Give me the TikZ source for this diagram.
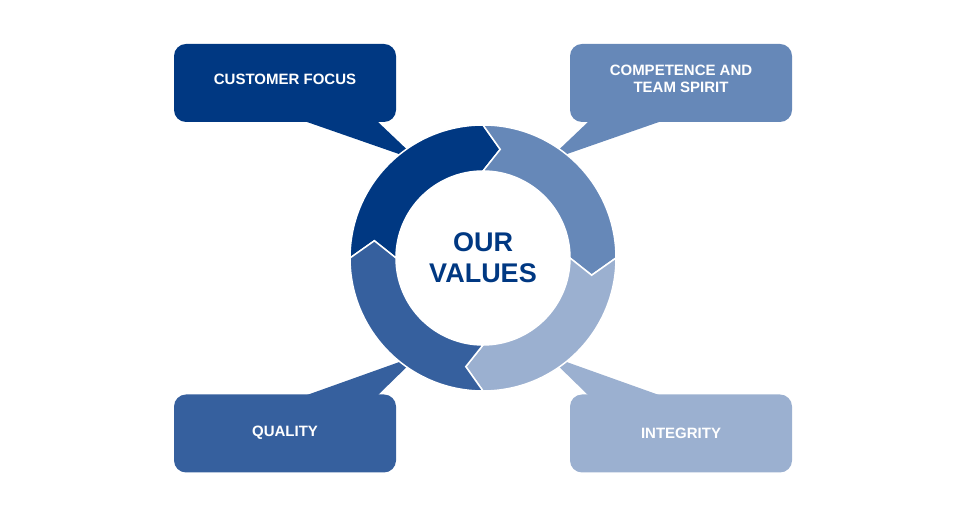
\documentclass[tikz,border=0pt]{standalone}
\usepackage{fontspec}
\setmainfont{Liberation Sans}
\definecolor{cA}{HTML}{003882}
\definecolor{cB}{HTML}{6688B8}
\definecolor{cC}{HTML}{9BB0D0}
\definecolor{cD}{HTML}{36609E}
\begin{document}
\begin{tikzpicture}[x=1pt,y=1pt,
  box/.style={rounded corners=12pt,minimum width=222pt,minimum height=78pt,inner sep=0pt},
  lbl/.style={text=white,font=\bfseries\fontsize{15}{17}\selectfont,align=center},
  seg/.style={draw=white,line width=1.5pt,line join=miter}]
\useasboundingbox (0,0) rectangle (972,529);
\def\R{133}\def\r{87}\def\m{110}\def\d{9}
% callouts
\fill[cA] (307,407) -- (419,368) -- (378,407) -- cycle;
\fill[cB] (659,407) -- (547,368) -- (588,407) -- cycle;
\fill[cD] (307,134) -- (419,174) -- (378,134) -- cycle;
\fill[cC] (659,134) -- (547,174) -- (588,134) -- cycle;
\node[box,fill=cA] (b1) at (285,446) {};
\node[box,fill=cB] (b2) at (681,446) {};
\node[box,fill=cD] (b3) at (285,95.5) {};
\node[box,fill=cC] (b4) at (681,95.5) {};
\node[lbl] (t1) at (285,450) {CUSTOMER FOCUS};
\node[lbl] (t2) at (681,450) {COMPETENCE AND\\TEAM SPIRIT};
\node[lbl] (t3) at (285,96) {QUALITY};
\node[lbl] (t4) at (681,96) {INTEGRITY};
% ring
\begin{scope}[shift={(483,271)}]
\foreach \a/\c in {180/cA,90/cB,0/cC,270/cD}{
  \pgfmathsetmacro\b{\a-90}
  \filldraw[seg,fill=\c] (\a:\R) arc[start angle=\a,end angle=\b,radius=\R]
    -- (\b-\d:\m) -- (\b:\r) arc[start angle=\b,end angle=\a,radius=\r]
    -- (\a-\d:\m) -- cycle;
}
\node[text=cA,font=\bfseries\fontsize{27}{31}\selectfont,align=center] (c) at (0,0) {OUR\\VALUES};
\end{scope}
\end{tikzpicture}
\end{document}
